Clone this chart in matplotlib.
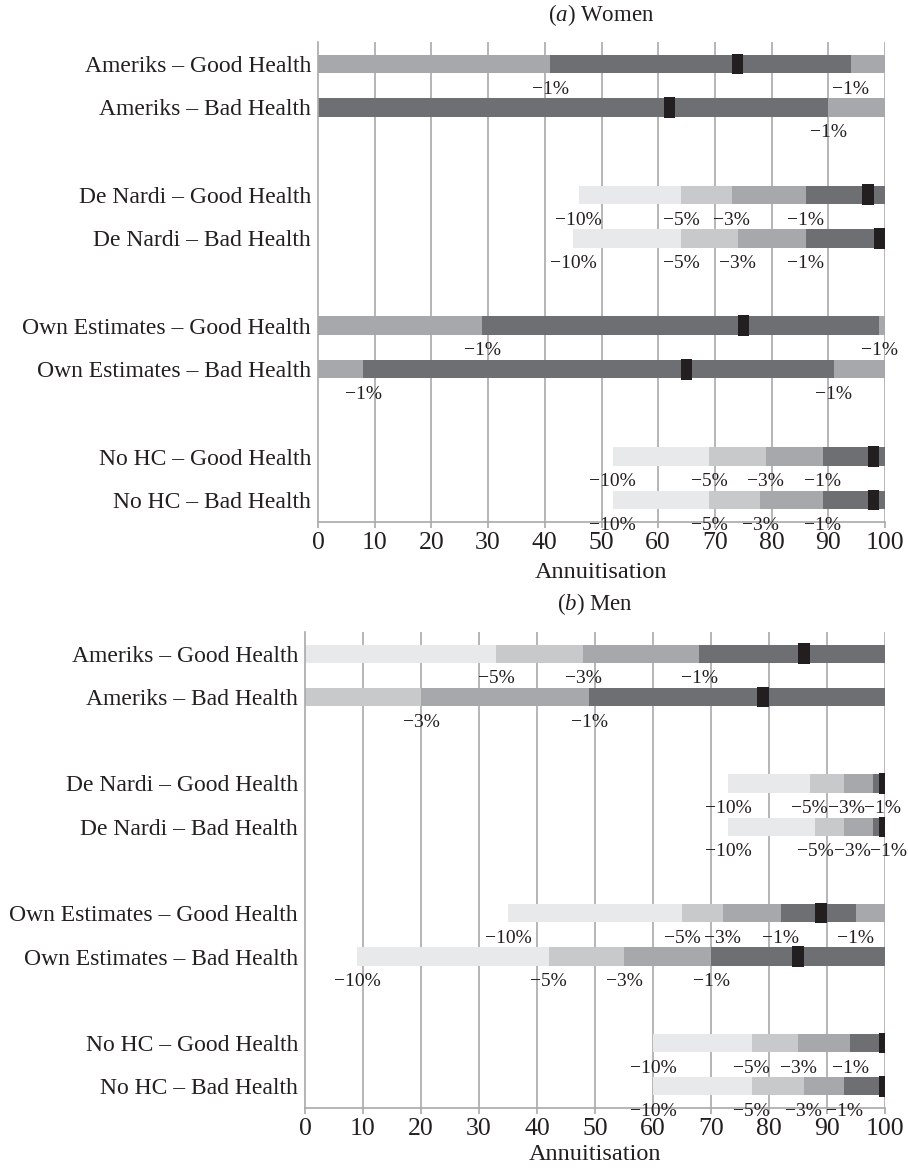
import matplotlib
matplotlib.use("Agg")
import matplotlib.pyplot as plt

plt.rcParams["font.family"] = ["Liberation Serif", "DejaVu Serif"]
plt.rcParams["mathtext.fontset"] = "custom"
plt.rcParams["mathtext.it"] = "Liberation Serif:italic"
plt.rcParams["mathtext.rm"] = "Liberation Serif"

ROWS = ["Ameriks – Good Health", "Ameriks – Bad Health",
        "De Nardi – Good Health", "De Nardi – Bad Health",
        "Own Estimates – Good Health", "Own Estimates – Bad Health",
        "No HC – Good Health", "No HC – Bad Health"]
ROW_POS = [0, 1, 3, 4, 6, 7, 9, 10]

# segment edges and welfare-loss level of each segment (10, 5, 3, 1 -> within -x%)
women_edges = [[0, 41, 94, 100], [0, 90, 100],
               [46, 64, 73, 86, 100], [45, 64, 74, 86, 100],
               [0, 29, 99, 100], [0, 8, 91, 100],
               [52, 69, 79, 89, 100], [52, 69, 78, 89, 100]]
women_levels = [[3, 1, 3], [1, 3],
                [10, 5, 3, 1], [10, 5, 3, 1],
                [3, 1, 3], [3, 1, 3],
                [10, 5, 3, 1], [10, 5, 3, 1]]
women_opt = [74, 62, 97, 99, 75, 65, 98, 98]

men_edges = [[0, 33, 48, 68, 100], [0, 20, 49, 100],
             [73, 87, 93, 98, 100], [73, 88, 93, 98, 100],
             [35, 65, 72, 82, 95, 100], [9, 42, 55, 70, 100],
             [60, 77, 85, 94, 100], [60, 77, 86, 93, 100]]
men_levels = [[10, 5, 3, 1], [5, 3, 1],
              [10, 5, 3, 1], [10, 5, 3, 1],
              [10, 5, 3, 1, 3], [10, 5, 3, 1],
              [10, 5, 3, 1], [10, 5, 3, 1]]
men_opt = [86, 79, 100, 100, 89, 85, 100, 100]

SHADE = {10: "#e8e9ea", 5: "#c8c9cb", 3: "#a7a8ab", 1: "#6e6f72"}
INK = "#231f20"
GRID = "#a9a9a9"


def panel(ax, edges, levels, opt):
    ax.set_xlim(0, 100)
    ax.set_ylim(10.5, -0.5)
    for x in range(10, 101, 10):
        ax.axvline(x, color=GRID, lw=1.2, zorder=0)
    for y, e, lv, o in zip(ROW_POS, edges, levels, opt):
        for a, b, l in zip(e[:-1], e[1:], lv):
            ax.barh(y, b - a, left=a, height=0.42, color=SHADE[l], lw=0, zorder=2)
        ax.barh(y, 2, left=o - 1, height=0.47, color=INK, lw=0, zorder=3)
        # threshold labels at interior boundaries, nudged apart when crowded
        last = -99
        for i in range(len(e)):
            if e[i] <= 0 or e[i] >= 100:
                continue
            left = lv[i - 1] if i > 0 else 99
            right = lv[i] if i < len(lv) else 99
            xt = max(e[i], last + 6.3)
            last = xt
            ax.text(xt, y + 0.58, f"−{min(left, right)}%", ha="center",
                    va="center", fontsize=14, color=INK, zorder=4)
    ax.set_yticks(ROW_POS)
    ax.set_yticklabels(ROWS, fontsize=17, color=INK)
    ax.tick_params(axis="y", length=0, pad=5)
    ax.set_xticks(range(0, 101, 10))
    ax.tick_params(axis="x", length=4, color=GRID, width=1.2, labelsize=18.5,
                   labelcolor=INK, pad=3)
    for s in ["top", "right"]:
        ax.spines[s].set_visible(False)
    for s in ["left", "bottom"]:
        ax.spines[s].set_color(GRID)
        ax.spines[s].set_linewidth(1.2)
    ax.set_xlabel("Annuitisation", fontsize=17.5, color=INK, labelpad=6)


fig = plt.figure(figsize=(9.08, 11.7), dpi=100)
ax1 = fig.add_axes([318 / 908, 1 - 522 / 1170, 567 / 908, 480 / 1170])
ax2 = fig.add_axes([305 / 908, 1 - 1108 / 1170, 580 / 908, 476 / 1170])
panel(ax1, women_edges, women_levels, women_opt)
panel(ax2, men_edges, men_levels, men_opt)
ax2.xaxis.labelpad = 3

fig.text(601.5 / 908, 1 - 15 / 1170, r"($\mathit{a}$) Women", ha="center",
         va="center", fontsize=16.5, color=INK)
fig.text(595 / 908, 1 - 604 / 1170, r"($\mathit{b}$) Men", ha="center",
         va="center", fontsize=16.5, color=INK)

fig.savefig("out.png", dpi=100)
